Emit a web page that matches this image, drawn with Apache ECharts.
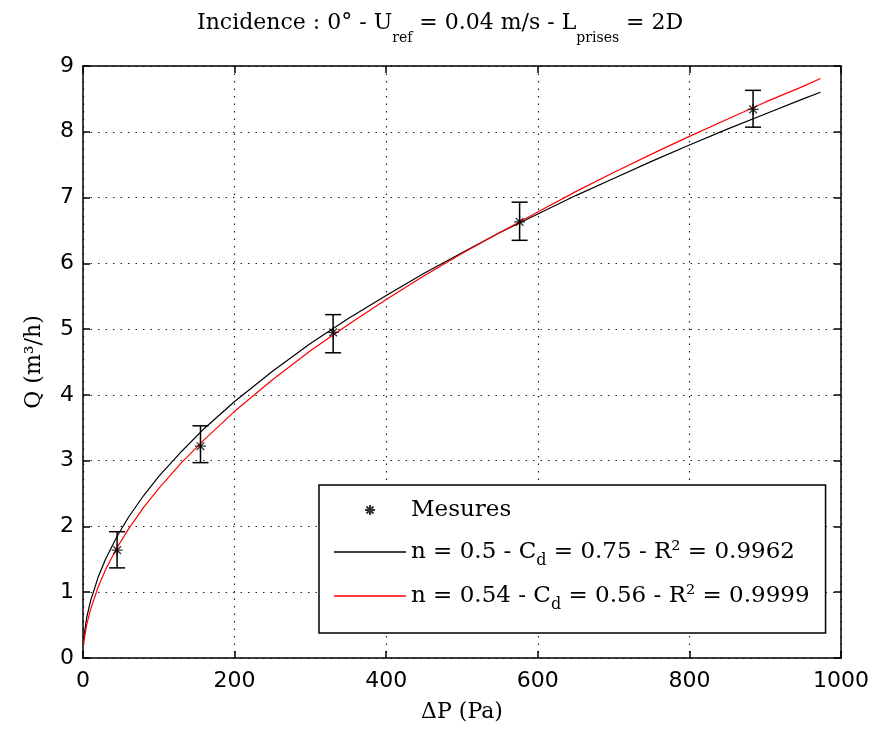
<!DOCTYPE html>
<html>
<head>
<meta charset="utf-8">
<script src="https://cdn.jsdelivr.net/npm/echarts@6/dist/echarts.min.js"></script>
<style>
  html, body { margin: 0; padding: 0; background: #fff; }
  #chart { width: 875px; height: 729px; }
</style>
</head>
<body>
<div id="chart"></div>
<script>
// mesures (points + barres d'erreur)
const measDP = [45, 155, 330, 576, 884];
const measQ = [1.64, 3.22, 4.95, 6.63, 8.34];
const measLow = [1.37, 2.97, 4.64, 6.35, 8.07];
const measHigh = [1.92, 3.53, 5.22, 6.93, 8.63];

// courbes
const curveDP = [1, 2, 5, 10, 20, 30, 45, 60, 80, 100, 130, 160, 200, 250, 300, 350, 400, 450, 500, 550, 600, 650, 700, 750, 800, 850, 900, 950, 973];
const fitBlack = [0.28, 0.39, 0.62, 0.87, 1.23, 1.51, 1.85, 2.14, 2.47, 2.76, 3.14, 3.49, 3.90, 4.36, 4.78, 5.16, 5.51, 5.85, 6.16, 6.47, 6.75, 7.03, 7.29, 7.55, 7.80, 8.04, 8.27, 8.50, 8.60];
const fitRed = [0.21, 0.31, 0.51, 0.74, 1.08, 1.35, 1.68, 1.96, 2.29, 2.58, 2.97, 3.32, 3.75, 4.23, 4.67, 5.07, 5.45, 5.81, 6.15, 6.47, 6.78, 7.09, 7.38, 7.66, 7.93, 8.19, 8.45, 8.69, 8.81];

const xTicks = [0, 200, 400, 600, 800, 1000];
const yTicks = [0, 1, 2, 3, 4, 5, 6, 7, 8, 9];

const nameMes = "Mesures";
const nameBlack = "n = 0.5 - Cd = 0.75 - R² = 0.9962";
const nameRed = "n = 0.54 - Cd = 0.56 - R² = 0.9999";

const serif = "DejaVu Serif";
const sans = "DejaVu Sans";
const starSym = "path://M0 5L10 5M5 0L5 10M1.5 1.5L8.5 8.5M8.5 1.5L1.5 8.5";
const starLegend = "path://M0 0M72 0M72 16M0 16M31 8L41 8M36 3L36 13M32.5 4.5L39.5 11.5M39.5 4.5L32.5 11.5";
const lineLegend = "path://M0 0M72 0M72 16M0 16M0 7.3L72 7.3L72 8.7L0 8.7Z";

let chart = echarts.init(document.getElementById("chart"));

function zip(a, b) {
  return a.map((v, i) => [v, b[i]]);
}

let axisCommon = {
  type: "value",
  axisLine: { show: true, onZero: false, lineStyle: { color: "#000", width: 1.5 } },
  axisTick: { show: true, inside: true, length: 7, lineStyle: { color: "#000", width: 1.5 } },
};

let option = {
  backgroundColor: "#fff",
  animation: false,
  title: {
    left: 192,
    top: 7,
    text: "{a|Incidence : 0° - U}{s|ref}{a| = 0.04 m/s - L}{s|prises}{a| = 2D}",
    textStyle: {
      fontWeight: "normal",
      rich: {
        a: { fontFamily: serif, fontSize: 22, fontWeight: "normal", color: "#000", lineHeight: 26, verticalAlign: "top" },
        s: { fontFamily: serif, fontSize: 14, fontWeight: "normal", color: "#000", lineHeight: 16, padding: [19, 0, 0, 0], verticalAlign: "top" },
      },
    },
  },
  grid: { left: 83, right: 34, top: 66, bottom: 71 },
  xAxis: [
    {
      ...axisCommon,
      position: "bottom",
      min: 0,
      max: 1000,
      interval: 200,
      name: "ΔP (Pa)",
      nameLocation: "middle",
      nameGap: 43,
      nameTextStyle: { fontFamily: serif, fontSize: 22, color: "#000" },
      axisLabel: {
        margin: 12,
        color: "#000",
        fontFamily: sans,
        fontSize: 22,
        formatter: (v) => (xTicks.includes(v) ? String(v) : ""),
      },
      splitLine: { show: true, lineStyle: { color: "#222", type: [1.5, 6], width: 1.2 } },
    },
    {
      ...axisCommon,
      position: "top",
      min: 0,
      max: 1000,
      interval: 200,
      axisLabel: { show: false },
      splitLine: { show: false },
    },
  ],
  yAxis: [
    {
      ...axisCommon,
      position: "left",
      min: 0,
      max: 9,
      interval: 1,
      name: "Q (m³/h)",
      nameLocation: "middle",
      nameGap: 38,
      nameRotate: 90,
      nameTextStyle: { fontFamily: serif, fontSize: 22, color: "#000" },
      axisLabel: {
        margin: 9,
        color: "#000",
        fontFamily: sans,
        fontSize: 22,
        formatter: (v) => (yTicks.includes(v) ? String(v) : ""),
      },
      splitLine: { show: true, lineStyle: { color: "#222", type: [1.5, 6], width: 1.2 } },
    },
    {
      ...axisCommon,
      position: "right",
      min: 0,
      max: 9,
      interval: 1,
      axisLabel: { show: false },
      splitLine: { show: false },
    },
  ],
  legend: {
    orient: "vertical",
    left: 319,
    top: 485,
    padding: [10, 16, 20, 14],
    itemGap: 10,
    itemWidth: 72,
    itemHeight: 16,
    borderColor: "#000",
    borderWidth: 1.5,
    backgroundColor: "#fff",
    selectedMode: false,
    data: [
      { name: nameMes, icon: starLegend },
      { name: nameBlack, icon: lineLegend },
      { name: nameRed, icon: lineLegend },
    ],
    formatter: (name) => name.replace("Cd", "C{d|d}"),
    textStyle: {
      fontFamily: serif,
      fontSize: 23,
      color: "#000",
      lineHeight: 30,
      rich: {
        d: { fontFamily: serif, fontSize: 16, color: "#000", lineHeight: 16, padding: [18, 0, 0, 0] },
      },
    },
  },
  series: [
    {
      name: "errbars",
      type: "custom",
      data: measDP.map((x, i) => [x, measLow[i], measHigh[i]]),
      encode: { x: 0, y: [1, 2] },
      silent: true,
      z: 3,
      renderItem: (params, api) => {
        let top = api.coord([api.value(0), api.value(2)]);
        let bot = api.coord([api.value(0), api.value(1)]);
        let w = 8;
        let st = { stroke: "#000", lineWidth: 1.5 };
        return {
          type: "group",
          children: [
            { type: "line", shape: { x1: top[0], y1: top[1], x2: bot[0], y2: bot[1] }, style: st },
            { type: "line", shape: { x1: top[0] - w, y1: top[1], x2: top[0] + w, y2: top[1] }, style: st },
            { type: "line", shape: { x1: bot[0] - w, y1: bot[1], x2: bot[0] + w, y2: bot[1] }, style: st },
          ],
        };
      },
    },
    {
      name: nameBlack,
      type: "line",
      data: zip(curveDP, fitBlack),
      symbol: "none",
      lineStyle: { color: "#000", width: 1.2 },
      itemStyle: { color: "#000" },
      z: 4,
    },
    {
      name: nameRed,
      type: "line",
      data: zip(curveDP, fitRed),
      symbol: "none",
      lineStyle: { color: "#ff0000", width: 1.2 },
      itemStyle: { color: "#ff0000" },
      z: 5,
    },
    {
      name: nameMes,
      type: "scatter",
      data: zip(measDP, measQ),
      symbol: starSym,
      symbolSize: 11,
      itemStyle: { color: "#000", borderColor: "#000", borderWidth: 1.3 },
      z: 6,
    },
  ],
};

chart.setOption(option);
</script>
</body>
</html>
